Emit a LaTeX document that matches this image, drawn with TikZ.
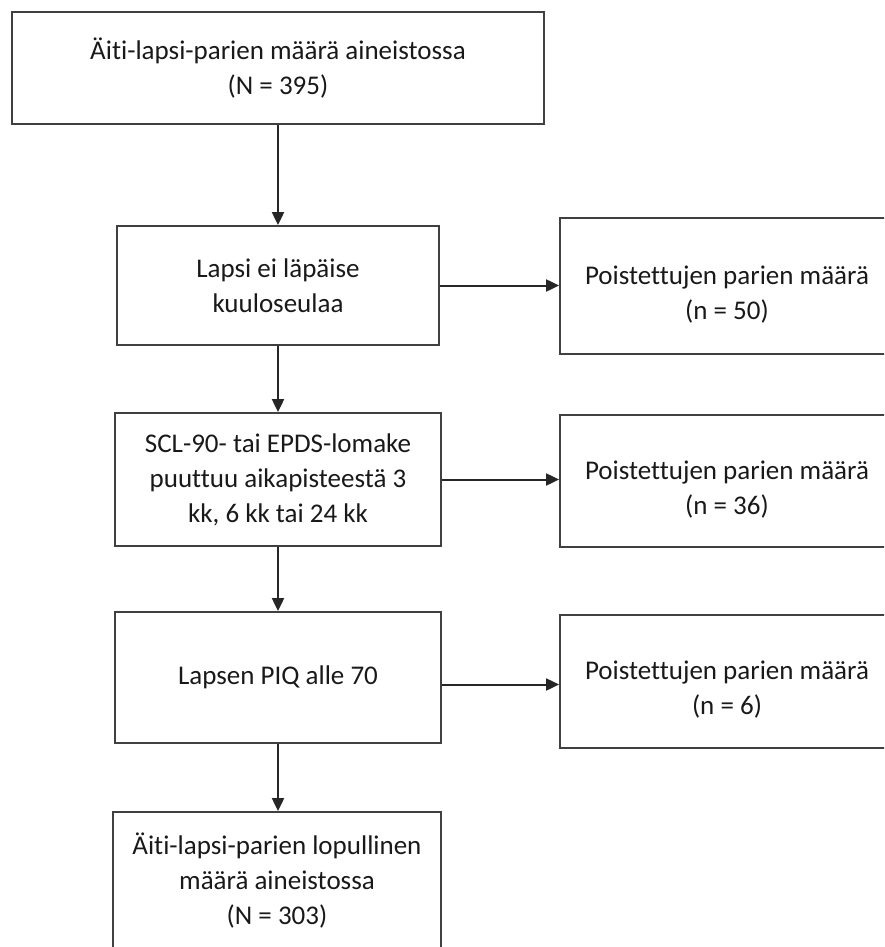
\documentclass[tikz,border=0pt]{standalone}
\usepackage{fontspec}
\setmainfont{Carlito}[RawFeature={-liga;-clig;-calt;-dlig}]
\usetikzlibrary{arrows.meta}

\begin{document}
\begin{tikzpicture}[x=0.5pt, y=-0.5pt,
process/.style={rectangle, draw=black!75, line width=0.9pt, align=center, text=black!90, font=\fontsize{13.5}{17.5}\selectfont, minimum width=163pt},
removed/.style={process, minimum width=167pt},
arrow/.style={-{Triangle[length=6.5pt, width=6pt]}, line width=1pt, draw=black!85}
]
\useasboundingbox (0,0) rectangle (884,947);
\clip (0,0) rectangle (884,947);
% Main column of the flow chart
\node[process, minimum width=266pt, minimum height=56pt] (aineisto) at (278,68) {Äiti-lapsi-parien määrä aineistossa\\(N = 395)};
\node[process, minimum width=161pt, minimum height=59.5pt] (kuulo) at (278,285.5) {Lapsi ei läpäise\\kuuloseulaa};
\node[process, minimum height=66.5pt] (lomake) at (278,479.5) {SCL-90- tai EPDS-lomake\\puuttuu aikapisteestä 3\\kk, 6 kk tai 24 kk};
\node[process, minimum height=65.5pt] (piq) at (278,677.5) {Lapsen PIQ alle 70};
\node[process, minimum width=164pt, minimum height=69pt] (lopullinen) at (277,881) {Äiti-lapsi-parien lopullinen\\määrä aineistossa\\(N = 303)};
% Removed pairs on the right
\node[removed, minimum height=68pt] (poisto1) at (727,286) {\mbox{}\\Poistettujen parien määrä\\(n = 50)};
\node[removed, minimum height=66pt] (poisto2) at (727,481) {\mbox{}\\Poistettujen parien määrä\\(n = 36)};
\node[removed, minimum height=66.5pt] (poisto3) at (727,681.5) {\mbox{}\\Poistettujen parien määrä\\(n = 6)};
% Arrows down the column
\draw[arrow] (aineisto) -- (kuulo);
\draw[arrow] (kuulo) -- (lomake);
\draw[arrow] (lomake) -- (piq);
\draw[arrow] (piq) -- (lopullinen.north -| piq);
% Arrows to the removed pairs
\draw[arrow] (kuulo.east) -- (kuulo.east -| poisto1.west);
\draw[arrow] (lomake.east) -- (lomake.east -| poisto2.west);
\draw[arrow] ([yshift=-3.5pt]piq.east) -- ([yshift=-3.5pt]piq.east -| poisto3.west);
\end{tikzpicture}
\end{document}
